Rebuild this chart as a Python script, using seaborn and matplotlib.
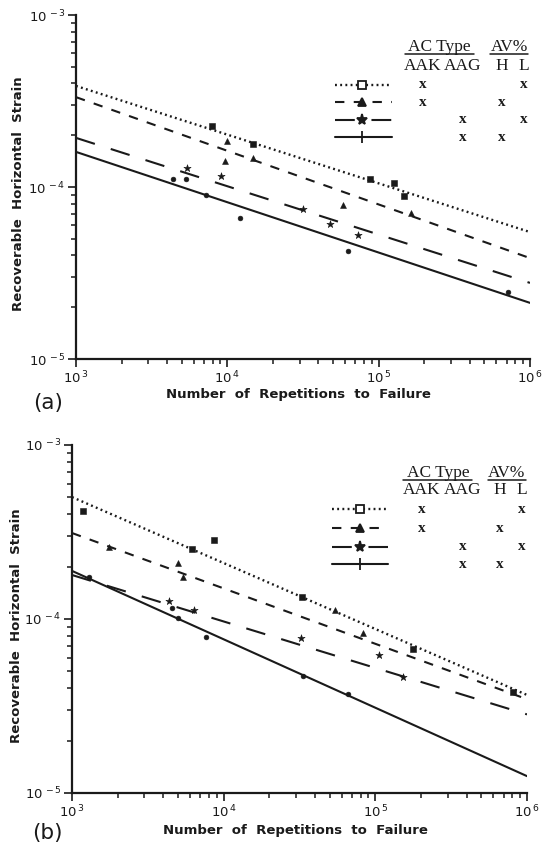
import numpy as np
import pandas as pd
import matplotlib
matplotlib.use("Agg")
import matplotlib.pyplot as plt
from matplotlib.lines import Line2D
from matplotlib.ticker import LogLocator, NullFormatter, FixedLocator
import seaborn as sns

sns.set_style("ticks")
plt.rcParams["font.family"] = ["DejaVu Sans"]
plt.rcParams["mathtext.fontset"] = "dejavusans"

# ---- fatigue relations (strain at N = 1e3 and N = 1e6) ----
line_N = [1e3, 1e6]
a_dotted = [3.87e-4, 5.47e-5]
a_short = [3.33e-4, 3.86e-5]
a_long = [1.93e-4, 2.77e-5]
a_solid = [1.60e-4, 2.12e-5]

b_dotted = [5.02e-4, 3.66e-5]
b_short = [3.12e-4, 3.46e-5]
b_long = [1.79e-4, 2.83e-5]
b_solid = [1.89e-4, 1.25e-5]

# ---- test results, panel (a) ----
a_sq_N = [7.9e3, 1.47e4, 8.77e4, 1.26e5, 1.47e5]
a_sq_eps = [2.27e-4, 1.79e-4, 1.11e-4, 1.06e-4, 8.9e-5]
a_tri_N = [9.9e3, 9.7e3, 1.47e4, 5.85e4, 1.63e5]
a_tri_eps = [1.85e-4, 1.42e-4, 1.47e-4, 7.85e-5, 7.1e-5]
a_star_N = [5.45e3, 9.1e3, 3.18e4, 4.77e4, 7.28e4]
a_star_eps = [1.29e-4, 1.16e-4, 7.41e-5, 6.07e-5, 5.26e-5]
a_dot_N = [4.4e3, 5.3e3, 7.2e3, 1.21e4, 6.31e4, 7.2e5]
a_dot_eps = [1.11e-4, 1.12e-4, 8.97e-5, 6.58e-5, 4.27e-5, 2.46e-5]

# ---- test results, panel (b) ----
b_sq_N = [1.19e3, 6.18e3, 8.59e3, 3.27e4, 1.76e5, 8.1e5]
b_sq_eps = [4.19e-4, 2.51e-4, 2.85e-4, 1.33e-4, 6.7e-5, 3.82e-5]
b_tri_N = [1.76e3, 5.02e3, 5.37e3, 5.42e4, 8.24e4]
b_tri_eps = [2.58e-4, 2.09e-4, 1.75e-4, 1.12e-4, 8.28e-5]
b_star_N = [4.33e3, 6.34e3, 3.22e4, 1.06e5, 1.53e5]
b_star_eps = [1.27e-4, 1.13e-4, 7.74e-5, 6.21e-5, 4.62e-5]
b_dot_N = [1.3e3, 4.54e3, 5.02e3, 7.64e3, 3.35e4, 6.62e4]
b_dot_eps = [1.75e-4, 1.15e-4, 1.02e-4, 7.91e-5, 4.7e-5, 3.71e-5]

# mixture table
ac_cols = ["AAK", "AAG", "H", "L"]
mix_marks = [["AAK", "L"], ["AAK", "H"], ["AAG", "L"], ["AAG", "H"]]

x_ticks = [1e3, 1e4, 1e5, 1e6]
x_ticklabels = [r"$10^{\,3}$", r"$10^{\,4}$", r"$10^{\,5}$", r"$10^{\,6}$"]
y_ticks = [1e-5, 1e-4, 1e-3]
y_ticklabels = [r"$10^{\,-5}$", r"$10^{\,-4}$", r"$10^{\,-3}$"]

STYLES = {
    "dotted": dict(ls=(0, (0.8, 1.4)), lw=1.7),
    "short": dict(ls=(0, (4.5, 4.5)), lw=1.5),
    "long": dict(ls=(0, (9.5, 8)), lw=1.5),
    "solid": dict(ls="-", lw=1.5),
}
INK = "#1a1a1a"

fig = plt.figure(figsize=(5.46, 8.48), dpi=100)


def draw_panel(ax, lines, points, table_pos, label_xy, xlabel_xy):
    ax.set_xscale("log")
    ax.set_yscale("log")
    for key, vals in lines:
        df = pd.DataFrame({"N": line_N, "eps": vals})
        sns.lineplot(data=df, x="N", y="eps", ax=ax, color=INK,
                     estimator=None, sort=False, **STYLES[key])
    for (nx, ey, mk, sz) in points:
        df = pd.DataFrame({"N": nx, "eps": ey})
        sns.scatterplot(data=df, x="N", y="eps", ax=ax, marker=mk, s=sz,
                        color=INK, edgecolor=INK, linewidth=0.4, zorder=4)
    ax.set_xlim(1e3, 1e6)
    ax.set_ylim(1e-5, 1e-3)
    sns.despine(ax=ax)
    for s in ("left", "bottom"):
        ax.spines[s].set_linewidth(1.6)
        ax.spines[s].set_color(INK)
    ax.xaxis.set_major_locator(FixedLocator(x_ticks))
    ax.set_xticklabels(x_ticklabels)
    ax.yaxis.set_major_locator(FixedLocator(y_ticks))
    ax.set_yticklabels(y_ticklabels)
    ax.xaxis.set_minor_locator(LogLocator(base=10, subs=np.arange(2, 10)))
    ax.yaxis.set_minor_locator(LogLocator(base=10, subs=np.arange(2, 10)))
    ax.xaxis.set_minor_formatter(NullFormatter())
    ax.yaxis.set_minor_formatter(NullFormatter())
    ax.tick_params(which="major", direction="out", length=5.5, width=1.2,
                   labelsize=9.5, color=INK, labelcolor=INK)
    ax.tick_params(which="minor", direction="out", length=3.5, width=1.1,
                   color=INK)
    ax.tick_params(axis="x", which="major", pad=2)
    ax.tick_params(axis="y", which="major", pad=2)
    ax.set_xlabel("Number  of  Repetitions  to  Failure", fontsize=9.5,
                  fontweight="bold", color=INK)
    ax.set_ylabel("Recoverable  Horizontal  Strain", fontsize=9.5,
                  fontweight="bold", color=INK)
    ax.yaxis.set_label_coords(*label_xy)
    ax.xaxis.set_label_coords(*xlabel_xy)

    # table legend
    (hx_ac, hx_av, hy, hy2, col_x, row_y, lx0, lx1, mx) = table_pos
    serif = ["Liberation Serif", "DejaVu Serif"]
    tr = ax.transAxes
    ax.text(hx_ac, hy, "AC Type", transform=tr, ha="center", va="baseline",
            fontsize=12.5, family=serif, color=INK)
    ax.text(hx_av, hy, "AV%", transform=tr, ha="center", va="baseline",
            fontsize=12.5, family=serif, color=INK)
    ax.add_line(Line2D([hx_ac - 0.076, hx_ac + 0.076], [hy - 0.009] * 2,
                       transform=tr, color=INK, lw=1.1))
    ax.add_line(Line2D([hx_av - 0.042, hx_av + 0.042], [hy - 0.009] * 2,
                       transform=tr, color=INK, lw=1.1))
    for name, cx in zip(ac_cols, col_x):
        ax.text(cx, hy2, name, transform=tr, ha="center", va="baseline",
                fontsize=12.5, family=serif, color=INK)
    sample_markers = [("s", 6, "white"), ("^", 6, INK),
                      ("*", 8, INK), ("|", 8, INK)]
    for i, key in enumerate(["dotted", "short", "long", "solid"]):
        y = row_y[i]
        ax.add_line(Line2D([lx0, lx1], [y, y], transform=tr,
                           color=INK, **STYLES[key]))
        mk, ms, fc = sample_markers[i]
        ax.add_line(Line2D([mx], [y], transform=tr, marker=mk, ms=ms,
                           mfc=fc, mec=INK, mew=1.3, ls="none"))
        for col in mix_marks[i]:
            cx = col_x[ac_cols.index(col)]
            ax.text(cx, y, "x", transform=tr, ha="center", va="center",
                    fontsize=11, fontweight="bold", family=serif, color=INK)


# panel (a)
ax_a = fig.add_axes([76 / 546, 1 - 359 / 848, 454 / 546, 344 / 848])
draw_panel(
    ax_a,
    [("dotted", a_dotted), ("short", a_short), ("long", a_long),
     ("solid", a_solid)],
    [(a_sq_N, a_sq_eps, "s", 16), (a_tri_N, a_tri_eps, "^", 18),
     (a_star_N, a_star_eps, "*", 30), (a_dot_N, a_dot_eps, "o", 12)],
    (0.801, 0.954, 0.895, 0.840,
     [0.764, 0.852, 0.938, 0.986],
     [0.797, 0.747, 0.695, 0.645], 0.570, 0.696, 0.630),
    (-0.112, 0.48), (0.489, -0.085),
)

# panel (b)
ax_b = fig.add_axes([72 / 546, 1 - 793 / 848, 455 / 546, 348 / 848])
draw_panel(
    ax_b,
    [("dotted", b_dotted), ("short", b_short), ("long", b_long),
     ("solid", b_solid)],
    [(b_sq_N, b_sq_eps, "s", 16), (b_tri_N, b_tri_eps, "^", 18),
     (b_star_N, b_star_eps, "*", 30), (b_dot_N, b_dot_eps, "o", 12)],
    (0.804, 0.956, 0.908, 0.859,
     [0.769, 0.859, 0.941, 0.989],
     [0.816, 0.761, 0.707, 0.658], 0.571, 0.695, 0.633),
    (-0.108, 0.48), (0.492, -0.088),
)

fig.text(48 / 546, 1 - 403 / 848, "(a)", fontsize=15.5, ha="center",
         va="center", color=INK, fontweight="medium")
fig.text(47 / 546, 1 - 833 / 848, "(b)", fontsize=15.5, ha="center",
         va="center", color=INK, fontweight="medium")

fig.savefig("out.png", dpi=100, facecolor="white")
